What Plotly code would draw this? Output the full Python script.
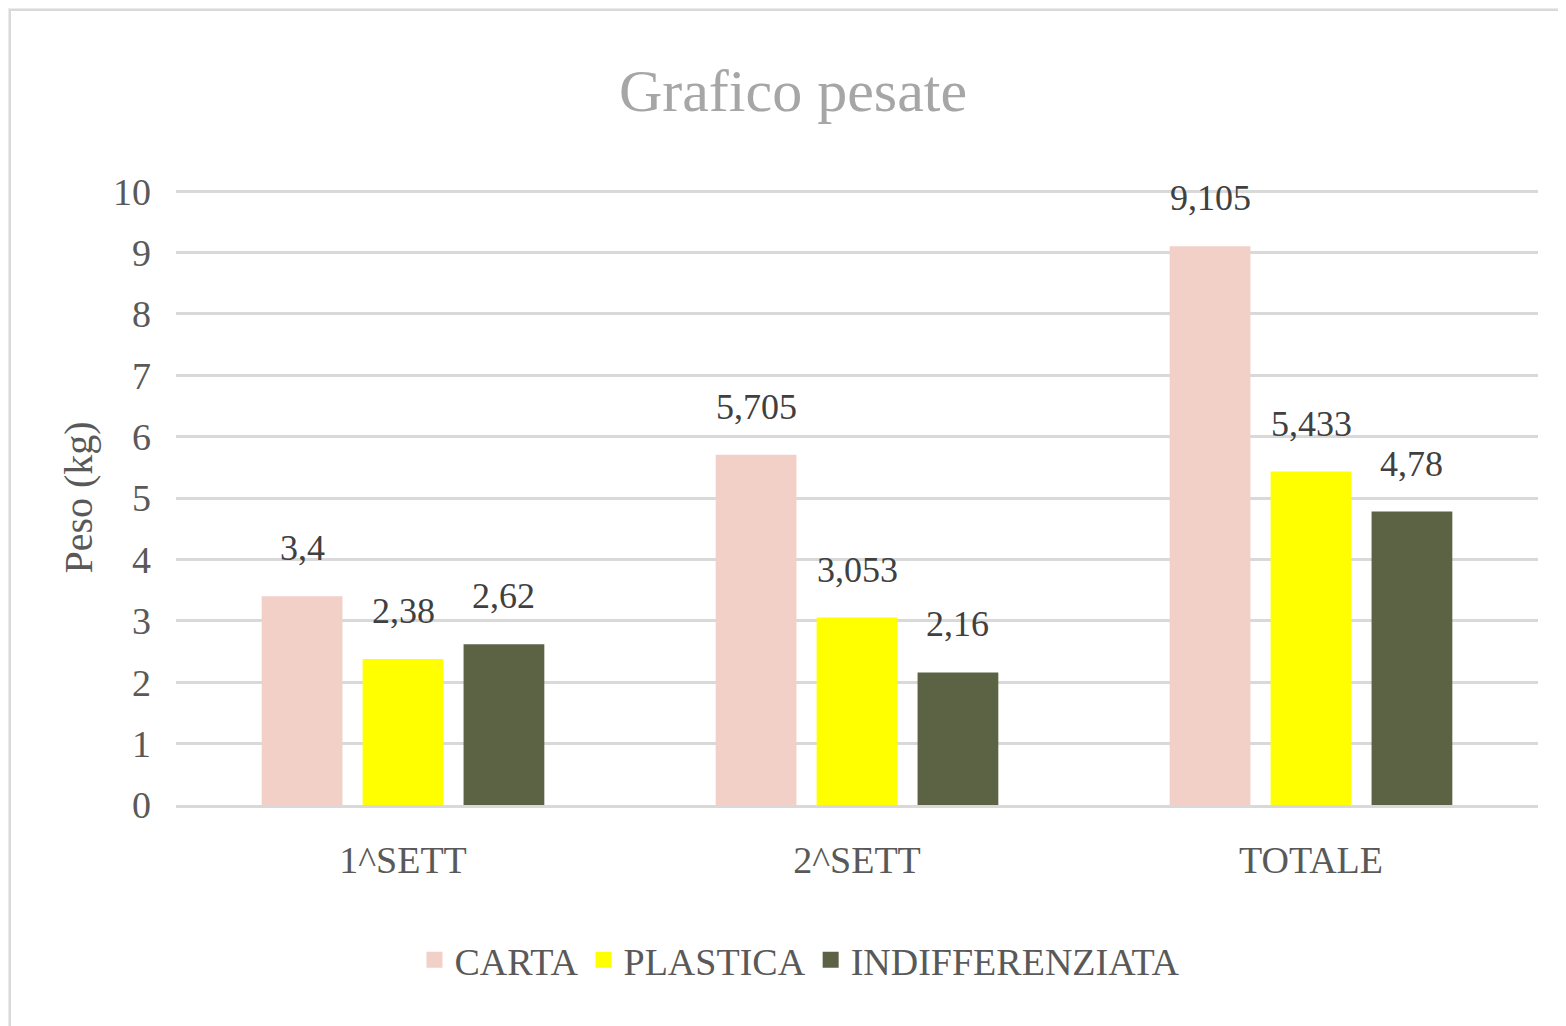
import plotly.graph_objects as go

categories = ["1^SETT", "2^SETT", "TOTALE"]
series_names = ["CARTA", "PLASTICA", "INDIFFERENZIATA"]
carta = [3.4, 5.705, 9.105]
plastica = [2.38, 3.053, 5.433]
indiff = [2.62, 2.16, 4.78]
y_ticks = [0, 1, 2, 3, 4, 5, 6, 7, 8, 9, 10]

colors = ["#F2CFC7", "#FFFF00", "#5B6344"]
FONT = "Liberation Serif"

# page has an 8px body margin; figure drawn inside it
W, H = 1558, 1018
L, R, T, B = 168, 28, 182, 221
pw, ph = W - L - R, H - T - B
BARGAP = 0.333
GROUPGAP = 0.2

def px_x(x):
    return (x - L) / pw

def px_y(y):
    return (H - B - y) / ph

def fmt(v):
    return ("%g" % v).replace(".", ",")

fig = go.Figure()
all_series = [carta, plastica, indiff]
for name, vals, col in zip(series_names, all_series, colors):
    fig.add_trace(go.Bar(
        x=categories, y=vals, name=name,
        marker=dict(color=col, line=dict(width=0)),
        showlegend=False,
    ))
# legend entries with larger square swatches
for name, col in zip(series_names, colors):
    fig.add_trace(go.Scatter(
        x=[None], y=[None], mode="markers", name=name,
        marker=dict(symbol="square", size=18, color=col),
        showlegend=True,
    ))

# data labels above bars
slot = pw / len(categories) * (1 - BARGAP) / len(all_series)
for i, vals in enumerate(all_series):
    shift = (i - (len(all_series) - 1) / 2) * slot
    for c, v in zip(categories, vals):
        fig.add_annotation(x=c, y=v, text=fmt(v), showarrow=False,
                           xshift=shift, yshift=48, yanchor="middle",
                           font=dict(family=FONT, size=36, color="#404040"))

fig.add_shape(type="rect", xref="paper", yref="paper",
              x0=px_x(2), x1=px_x(W + 5), y0=px_y(H + 5), y1=px_y(2),
              fillcolor="white", line=dict(color="#D9D9D9", width=2), layer="below")

fig.update_layout(
    width=W, height=H,
    margin=dict(l=L, r=R, t=T, b=B),
    paper_bgcolor="#EBEBEB",
    plot_bgcolor="rgba(0,0,0,0)",
    barmode="group",
    bargap=BARGAP,
    bargroupgap=GROUPGAP,
    title=dict(text="Grafico pesate", x=785 / W,
               xref="container", xanchor="center", y=1 - 82 / H, yanchor="middle",
               font=dict(family=FONT, size=60, color="#A6A6A6")),
    font=dict(family=FONT, color="#595959"),
    showlegend=True,
    legend=dict(orientation="h", x=px_x(792), xanchor="center", y=px_y(952), yanchor="middle",
                bgcolor="rgba(0,0,0,0)",
                font=dict(family=FONT, size=38, color="#595959"),
                itemwidth=30, traceorder="normal"),
)
fig.update_yaxes(range=[0, 10.02], tickvals=y_ticks, showgrid=True, gridcolor="#D9D9D9", gridwidth=3,
                 zeroline=False, showline=False, ticks="", ticklabelstandoff=24,
                 tickfont=dict(family=FONT, size=38, color="#595959"),
                 title=dict(text="Peso (kg)", standoff=8,
                            font=dict(family=FONT, size=40, color="#595959")))
fig.update_xaxes(showline=True, linecolor="#D9D9D9", linewidth=3, ticks="", showgrid=False,
                 ticklabelstandoff=19,
                 tickfont=dict(family=FONT, size=38, color="#595959"))

fig.write_html("out.html")
